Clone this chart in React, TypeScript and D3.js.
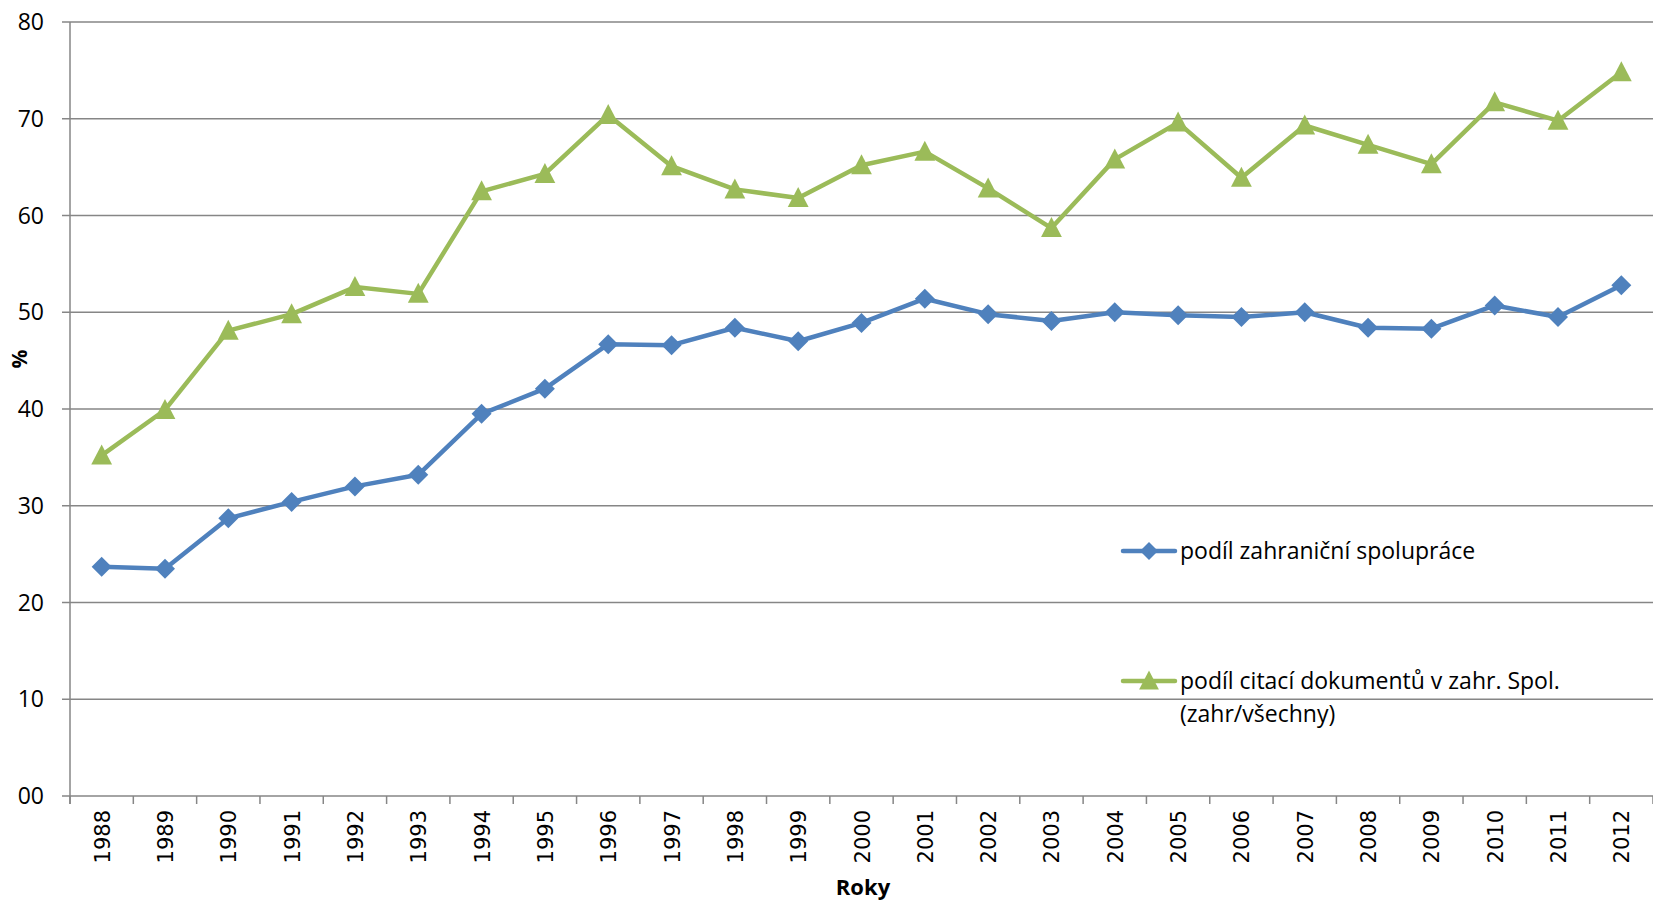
import React from 'react'
import * as d3 from 'd3'

// chart values
const years = ['1988', '1989', '1990', '1991', '1992', '1993', '1994', '1995', '1996', '1997', '1998', '1999', '2000',
  '2001', '2002', '2003', '2004', '2005', '2006', '2007', '2008', '2009', '2010', '2011', '2012']
const collaboration = [23.7, 23.5, 28.7, 30.4, 32.0, 33.2, 39.5, 42.1, 46.7, 46.6, 48.4, 47.0, 48.9,
  51.4, 49.8, 49.1, 50.0, 49.7, 49.5, 50.0, 48.4, 48.3, 50.7, 49.5, 52.8]
const citations = [35.2, 39.9, 48.1, 49.8, 52.6, 51.9, 62.5, 64.3, 70.4, 65.1, 62.7, 61.8, 65.2,
  66.6, 62.8, 58.7, 65.8, 69.6, 63.9, 69.3, 67.3, 65.3, 71.7, 69.8, 74.8]
const yTicks = [0, 10, 20, 30, 40, 50, 60, 70, 80]
const seriesNames = ['podíl zahraniční spolupráce', 'podíl citací dokumentů v zahr. Spol.', '(zahr/všechny)']

const W = 1653
const H = 901
const BLUE = '#4F81BD'
const GREEN = '#9BBB59'
const GRID = '#868686'

const Diamond = ({ x, y, r }: { x: number; y: number; r: number }) => (
  <path d={`M${x},${y - r}L${x + r},${y}L${x},${y + r}L${x - r},${y}Z`} fill={BLUE} />
)
const Triangle = ({ x, y, s }: { x: number; y: number; s: number }) => (
  <path d={`M${x},${y - s * 0.55}L${x + s * 0.52},${y + s * 0.45}L${x - s * 0.52},${y + s * 0.45}Z`} fill={GREEN} />
)

export default function App() {
  const margin = { top: 22, right: 0, bottom: 105, left: 70 }
  const x = d3.scaleBand<string>().domain(years).range([margin.left, W - margin.right]).padding(0)
  const y = d3.scaleLinear().domain([0, 80]).range([H - margin.bottom, margin.top])
  const cx = (d: string) => (x(d) as number) + x.bandwidth() / 2
  const line = d3.line<number>().x((_, i) => cx(years[i])).y((d) => y(d))
  const bottom = y(0)
  const boundaries = years.map((d) => x(d) as number).concat([W - margin.right])

  return (
    <svg width={W} height={H} style={{ position: 'absolute', left: 0, top: 0, display: 'block', background: '#fff' }}>
      {/* grid + y axis */}
      {yTicks.map((t) => (
        <g key={t}>
          <line x1={margin.left - 8} x2={W} y1={y(t)} y2={y(t)} stroke={GRID} strokeWidth={1.5} />
          <text x={margin.left - 26} y={y(t)} dy="0.35em" textAnchor="end" fontFamily="Open Sans" fontSize={23} fill="#000">
            {t === 0 ? '00' : t}
          </text>
        </g>
      ))}
      <line x1={margin.left} x2={margin.left} y1={margin.top} y2={bottom + 8} stroke={GRID} strokeWidth={1.5} />
      {boundaries.map((b, i) => (
        <line key={i} x1={b} x2={b} y1={bottom} y2={bottom + 8} stroke={GRID} strokeWidth={1.5} />
      ))}
      {years.map((d) => (
        <text key={d} transform={`translate(${cx(d) + 8},${bottom + 14}) rotate(-90)`} textAnchor="end"
          fontFamily="DejaVu Sans" fontSize={21} fill="#000">{d}</text>
      ))}
      <text x={863} y={895} textAnchor="middle" fontFamily="Open Sans" fontWeight="bold" fontSize={22}>Roky</text>
      <text transform="translate(27,359) rotate(-90)" textAnchor="middle" fontFamily="Open Sans" fontWeight="bold" fontSize={21}>%</text>

      {/* series */}
      <path d={line(citations) as string} fill="none" stroke={GREEN} strokeWidth={4.5} strokeLinejoin="round" />
      {citations.map((v, i) => <Triangle key={i} x={cx(years[i])} y={y(v)} s={20} />)}
      <path d={line(collaboration) as string} fill="none" stroke={BLUE} strokeWidth={4.5} strokeLinejoin="round" />
      {collaboration.map((v, i) => <Diamond key={i} x={cx(years[i])} y={y(v)} r={10} />)}

      {/* legend */}
      <g fontFamily="Open Sans" fontSize={23} fill="#000">
        <line x1={1123} x2={1175} y1={551} y2={551} stroke={BLUE} strokeWidth={4.5} strokeLinecap="round" />
        <Diamond x={1149} y={551} r={9} />
        <text x={1180} y={551} dy="0.35em">{seriesNames[0]}</text>
        <line x1={1123} x2={1175} y1={681} y2={681} stroke={GREEN} strokeWidth={4.5} strokeLinecap="round" />
        <Triangle x={1149} y={681} s={19} />
        <text x={1180} y={681} dy="0.35em">{seriesNames[1]}</text>
        <text x={1180} y={714} dy="0.35em">{seriesNames[2]}</text>
      </g>
    </svg>
  )
}
